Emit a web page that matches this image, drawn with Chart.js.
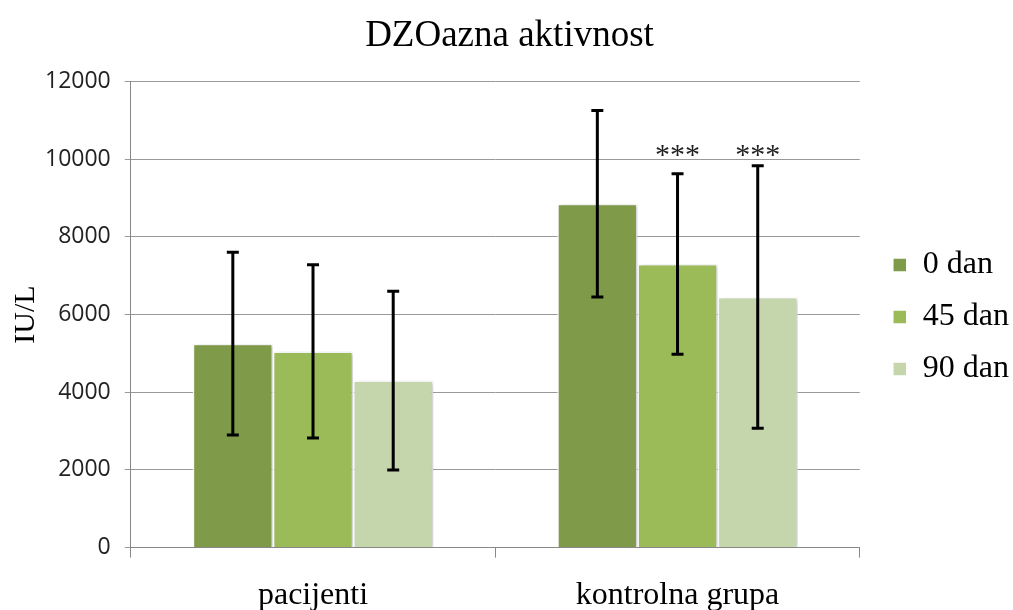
<!DOCTYPE html>
<html>
<head>
<meta charset="utf-8">
<script src="https://cdn.jsdelivr.net/npm/chart.js@4.4.1/dist/chart.umd.min.js"></script>
<style>
  html, body { margin: 0; padding: 0; background: #fff; }
  #wrap { width: 1013px; height: 610px; }
</style>
</head>
<body>
<div id="wrap"><canvas id="chart" width="1013" height="610"></canvas></div>
<script>
const groups = ["pacijenti", "kontrolna grupa"];
const seriesNames = ["0 dan", "45 dan", "90 dan"];
const day0 = [5250, 8850];
const day45 = [5050, 7300];
const day90 = [4300, 6450];
// error bar half-widths (SD)
const err0 = [2350, 2400];
const err45 = [2230, 2320];
const err90 = [2300, 3380];
// significance marks per series, per group
const stars0 = ["", ""];
const stars45 = ["", "***"];
const stars90 = ["", "***"];
const starLevel = 10150;
const yTicks = [0, 2000, 4000, 6000, 8000, 10000, 12000];

const colors = ["#7f9a48", "#9bbb59", "#c6d6ac"];
const serif = "'Liberation Serif', 'Times New Roman', serif";

// soft shadow under the bars, like the original
const barShadow = {
    id: 'barShadow',
    beforeDatasetDraw(chart) {
        const ctx = chart.ctx;
        ctx.save();
        ctx.shadowColor = 'rgba(0,0,0,0.22)';
        ctx.shadowBlur = 4;
        ctx.shadowOffsetX = 2;
        ctx.shadowOffsetY = 1;
    },
    afterDatasetDraw(chart) {
        chart.ctx.restore();
    }
};

// error bars + stars drawn through the chart's own scales
const errorBars = {
    id: 'errorBars',
    afterDatasetsDraw(chart) {
        const ctx = chart.ctx;
        const y = chart.scales.y;
        chart.data.datasets.forEach(function (ds, i) {
            const meta = chart.getDatasetMeta(i);
            meta.data.forEach(function (bar, j) {
                const v = ds.data[j];
                const e = ds.err[j];
                const yTop = y.getPixelForValue(v + e);
                const yBot = y.getPixelForValue(v - e);
                ctx.save();
                ctx.strokeStyle = '#000';
                ctx.lineWidth = 3;
                ctx.beginPath();
                ctx.moveTo(bar.x, yTop);
                ctx.lineTo(bar.x, yBot);
                ctx.moveTo(bar.x - 6, yTop);
                ctx.lineTo(bar.x + 6, yTop);
                ctx.moveTo(bar.x - 6, yBot);
                ctx.lineTo(bar.x + 6, yBot);
                ctx.stroke();
                if (ds.stars[j]) {
                    ctx.fillStyle = '#222';
                    ctx.font = '30px ' + serif;
                    ctx.textAlign = 'center';
                    ctx.textBaseline = 'middle';
                    ctx.fillText(ds.stars[j], bar.x, y.getPixelForValue(starLevel) + 3);
                }
                ctx.restore();
            });
        });
    }
};

const ctx = document.getElementById('chart').getContext('2d');
new Chart(ctx, {
    type: 'bar',
    data: {
        labels: groups,
        datasets: [
            { label: seriesNames[0], data: day0, err: err0, stars: stars0, backgroundColor: colors[0] },
            { label: seriesNames[1], data: day45, err: err45, stars: stars45, backgroundColor: colors[1] },
            { label: seriesNames[2], data: day90, err: err90, stars: stars90, backgroundColor: colors[2] }
        ].map(function (d) {
            d.borderColor = '#ffffff';
            d.borderWidth = 1.5;
            d.categoryPercentage = 0.66;
            d.barPercentage = 1.0;
            d.yAxisID = 'y';
            return d;
        })
    },
    options: {
        responsive: false,
        animation: false,
        layout: { padding: { left: 0, right: -6, top: 0, bottom: -24 } },
        plugins: {
            title: {
                display: true,
                text: 'DZOazna aktivnost',
                color: '#000',
                font: { family: serif, size: 37, weight: 'normal' },
                padding: { top: 14, bottom: 23 }
            },
            legend: {
                position: 'right',
                labels: {
                    color: '#000',
                    font: { family: serif, size: 32 },
                    boxWidth: 14,
                    boxHeight: 14,
                    padding: 20
                }
            },
            tooltip: { enabled: false }
        },
        scales: {
            x: {
                grid: { drawOnChartArea: false, color: '#888', tickLength: 10, offset: true },
                border: { color: '#888' },
                ticks: { color: '#000', font: { family: serif, size: 32 }, padding: 19 }
            },
            y: {
                min: 0,
                max: 12000,
                afterBuildTicks: function (axis) {
                    axis.ticks = yTicks.map(function (v) { return { value: v }; });
                },
                grid: { color: '#999', tickLength: 6 },
                border: { color: '#888' },
                ticks: {
                    color: '#222',
                    font: { family: "'Open Sans', sans-serif", size: 23 },
                    padding: 14,
                    callback: function (v) { return String(v); }
                },
                title: {
                    display: true,
                    text: 'IU/L',
                    color: '#000',
                    font: { family: serif, size: 30 },
                    padding: { top: 8, bottom: -13 }
                }
            },
            // empty spacer between plot and legend
            gap: {
                position: 'right',
                min: 0,
                max: 1,
                grid: { display: false, drawTicks: false },
                border: { display: false },
                ticks: { display: false },
                afterFit: function (s) { s.width = 13; }
            }
        }
    },
    plugins: [barShadow, errorBars]
});
</script>
</body>
</html>
